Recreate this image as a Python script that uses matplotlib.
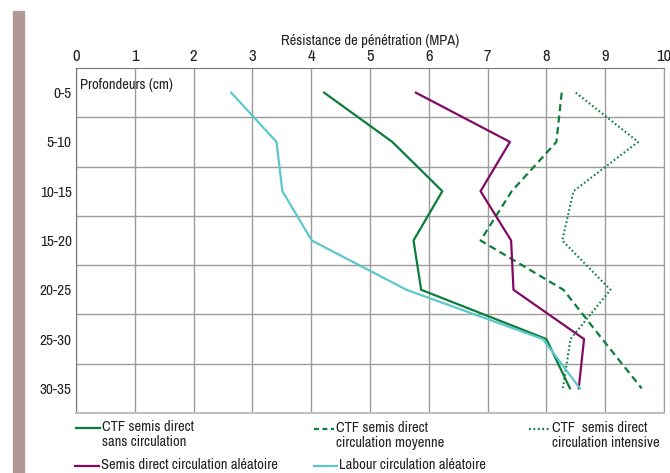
import numpy as np
import matplotlib
matplotlib.use("Agg")
import matplotlib.pyplot as plt
from matplotlib.lines import Line2D
from matplotlib.patches import Rectangle

plt.rcParams['font.family'] = ['Archivo Narrow', 'Roboto Condensed', 'DejaVu Sans']

# profondeurs (cm) et resistance de penetration (MPA)
profondeurs = ['0-5', '5-10', '10-15', '15-20', '20-25', '25-30', '30-35']
sans_circulation = [4.22, 5.38, 6.23, 5.74, 5.87, 8.00, 8.40]
circ_moyenne = [8.26, 8.17, 7.41, 6.88, 8.29, 8.95, 9.62]
circ_intensive = [8.50, 9.56, 8.46, 8.27, 9.09, 8.41, 8.28]
semis_aleatoire = [5.78, 7.38, 6.88, 7.40, 7.44, 8.64, 8.55]
labour_aleatoire = [2.64, 3.41, 3.51, 4.01, 5.62, 7.94, 8.57]
x_ticks = np.arange(0, 11, 1)

green = '#0b7d3b'
purple = '#820a62'
cyan = '#5cc8cc'
txt_col = '#222222'

fig = plt.figure(figsize=(6.7, 4.73), dpi=100)
fig.patches.append(Rectangle((13 / 670, 0), 11 / 670, 462 / 473,
                             transform=fig.transFigure, color='#b09896'))

ax = fig.add_axes([76 / 670, 60 / 473, 588 / 670, 345 / 473])
y = np.arange(len(profondeurs))

ax.plot(sans_circulation, y, color=green, lw=1.6)
ax.plot(circ_moyenne, y, color=green, lw=1.6, linestyle=(0, (3.2, 2)))
ax.plot(circ_intensive, y, color=green, lw=1.5, linestyle=(0, (0.8, 1.2)))
ax.plot(semis_aleatoire, y, color=purple, lw=1.6)
ax.plot(labour_aleatoire, y, color=cyan, lw=1.6)

ax.set_xlim(0, 10)
ax.set_ylim(len(profondeurs) - 0.5, -0.5)
ax.xaxis.tick_top()
ax.set_xticks(x_ticks)
ax.tick_params(axis='x', length=0, pad=3, labelsize=12, colors=txt_col)
ax.set_yticks(y)
ax.set_yticklabels(profondeurs)
ax.set_yticks(y[:-1] + 0.5, minor=True)
ax.tick_params(axis='y', which='both', length=0, pad=3, labelsize=11, colors=txt_col)
ax.grid(axis='x', color='#9c9c9c', lw=1)
ax.grid(axis='y', which='minor', color='#9c9c9c', lw=1)
ax.set_axisbelow(True)
for side in ['top', 'left']:
    ax.spines[side].set_color('#777777')
ax.spines['right'].set_color('#9c9c9c')
ax.spines['bottom'].set_color('#c0c0c0')
ax.spines['bottom'].set_linewidth(1.5)

ax.text(0.007, 0.97, 'Profondeurs (cm)', transform=ax.transAxes, fontsize=10.5,
        va='top', ha='left', color=txt_col)
fig.text(370 / 670, 1 - 41 / 473, 'Résistance de pénétration (MPA)', fontsize=10.5,
         ha='center', va='center', color=txt_col)

# legende faite a la main
legend_items = [
    (76, 100, 428, 'CTF semis direct\nsans circulation', green, '-'),
    (314, 334, 429, 'CTF semis direct\ncirculation moyenne', green, (0, (2.2, 1.6))),
    (529, 550, 429, 'CTF  semis direct\ncirculation intensive', green, (0, (0.8, 1.2))),
    (75, 99, 466, 'Semis direct circulation aléatoire', purple, '-'),
    (314, 337, 466, 'Labour circulation aléatoire', cyan, '-'),
]
for x0, x1, yy, label, c, ls in legend_items:
    fig.add_artist(Line2D([x0 / 670, x1 / 670], [1 - yy / 473] * 2, color=c, lw=1.6,
                          linestyle=ls, transform=fig.transFigure))
    fig.text((x1 + 2) / 670, 1 - (yy - 8) / 473, label, fontsize=10.5, ha='left', va='top',
             color=txt_col, linespacing=1.05)

fig.savefig('out.png', dpi=100)
